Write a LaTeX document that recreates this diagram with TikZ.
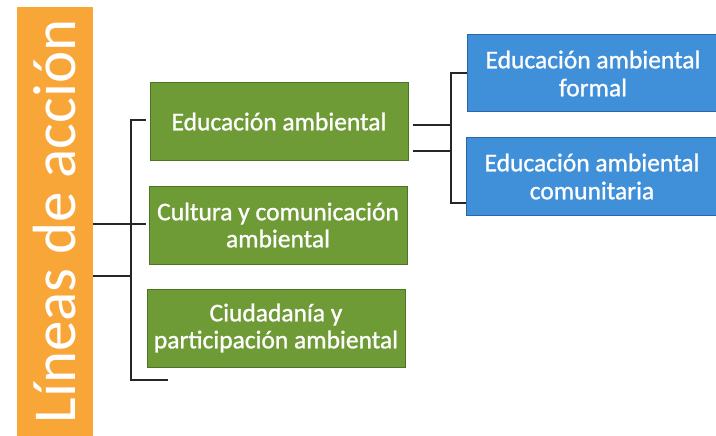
\documentclass[tikz,border=0pt]{standalone}
\usepackage{fontspec}
\setmainfont{Carlito}
\newfontfamily\boxfont{Carlito}[FakeBold=1]
\usepackage{xcolor}
\usetikzlibrary{calc}
\definecolor{barorange}{HTML}{F9A639}
\definecolor{boxgreen}{HTML}{6F9B37}
\definecolor{edgegreen}{HTML}{4D7424}
\definecolor{boxblue}{HTML}{3F8FD9}
\definecolor{edgeblue}{HTML}{2A67A8}
\begin{document}
\begin{tikzpicture}[x=1pt,y=-1pt,
    bar/.style={fill=barorange, text=white, rotate=90, minimum width=429pt, minimum height=76pt, inner sep=0pt, font=\fontsize{61}{70}\selectfont},
    linea/.style={fill=boxgreen, draw=edgegreen, line width=1pt, text=white, minimum width=258pt, minimum height=78pt, align=center, font=\boxfont\fontsize{25.5}{27}\selectfont},
    tipo/.style={fill=boxblue, draw=edgeblue, line width=1pt, text=white, minimum width=252pt, minimum height=77pt, align=center, font=\boxfont\fontsize{25.5}{28}\selectfont},
    link/.style={draw=black!85, line width=1.3pt}]
    \useasboundingbox (0,0) rectangle (716,436);

    % Draw the title bar
    \node[bar] (lineas) at (55,221.5) {Líneas de acción};

    % Draw the action lines
    \node[linea] (edu) at (279,121.5) {Educación ambiental};
    \node[linea] (cultura) at (278,225) {Cultura y comunicación\\ambiental};
    \node[linea] (ciudadania) at (276,328) {Ciudadanía y\\participación ambiental};

    % Draw the kinds of education
    \node[tipo] (formal) at (593,73.5) {Educación ambiental\\formal};
    \node[tipo] (comunitaria) at (592,176.5) {Educación ambiental\\comunitaria};

    % Define the bracket corners
    \coordinate (lt) at (131,120);
    \coordinate (lb) at (131,380);
    \coordinate (rt) at (451,73);
    \coordinate (rb) at (451,203);

    % Draw the left bracket
    \draw[link] ($(edu.west |- lt)+(-4,0)$) -- (lt) -- (lb) -- ++(37,0);
    \draw[link] (lineas.south |- 0,224) -- ($(cultura.west |- 0,224)+(-3,0)$);
    \draw[link] (lineas.south |- 0,276) -- (lb |- 0,276);

    % Draw the right bracket
    \draw[link] (formal.west |- rt) -- (rt) -- (rb) -- (comunitaria.west |- rb);
    \draw[link] ($(edu.east |- 0,125)+(4,0)$) -- (rt |- 0,125);
    \draw[link] ($(edu.east |- 0,151)+(4,0)$) -- (rt |- 0,151);
\end{tikzpicture}
\end{document}
